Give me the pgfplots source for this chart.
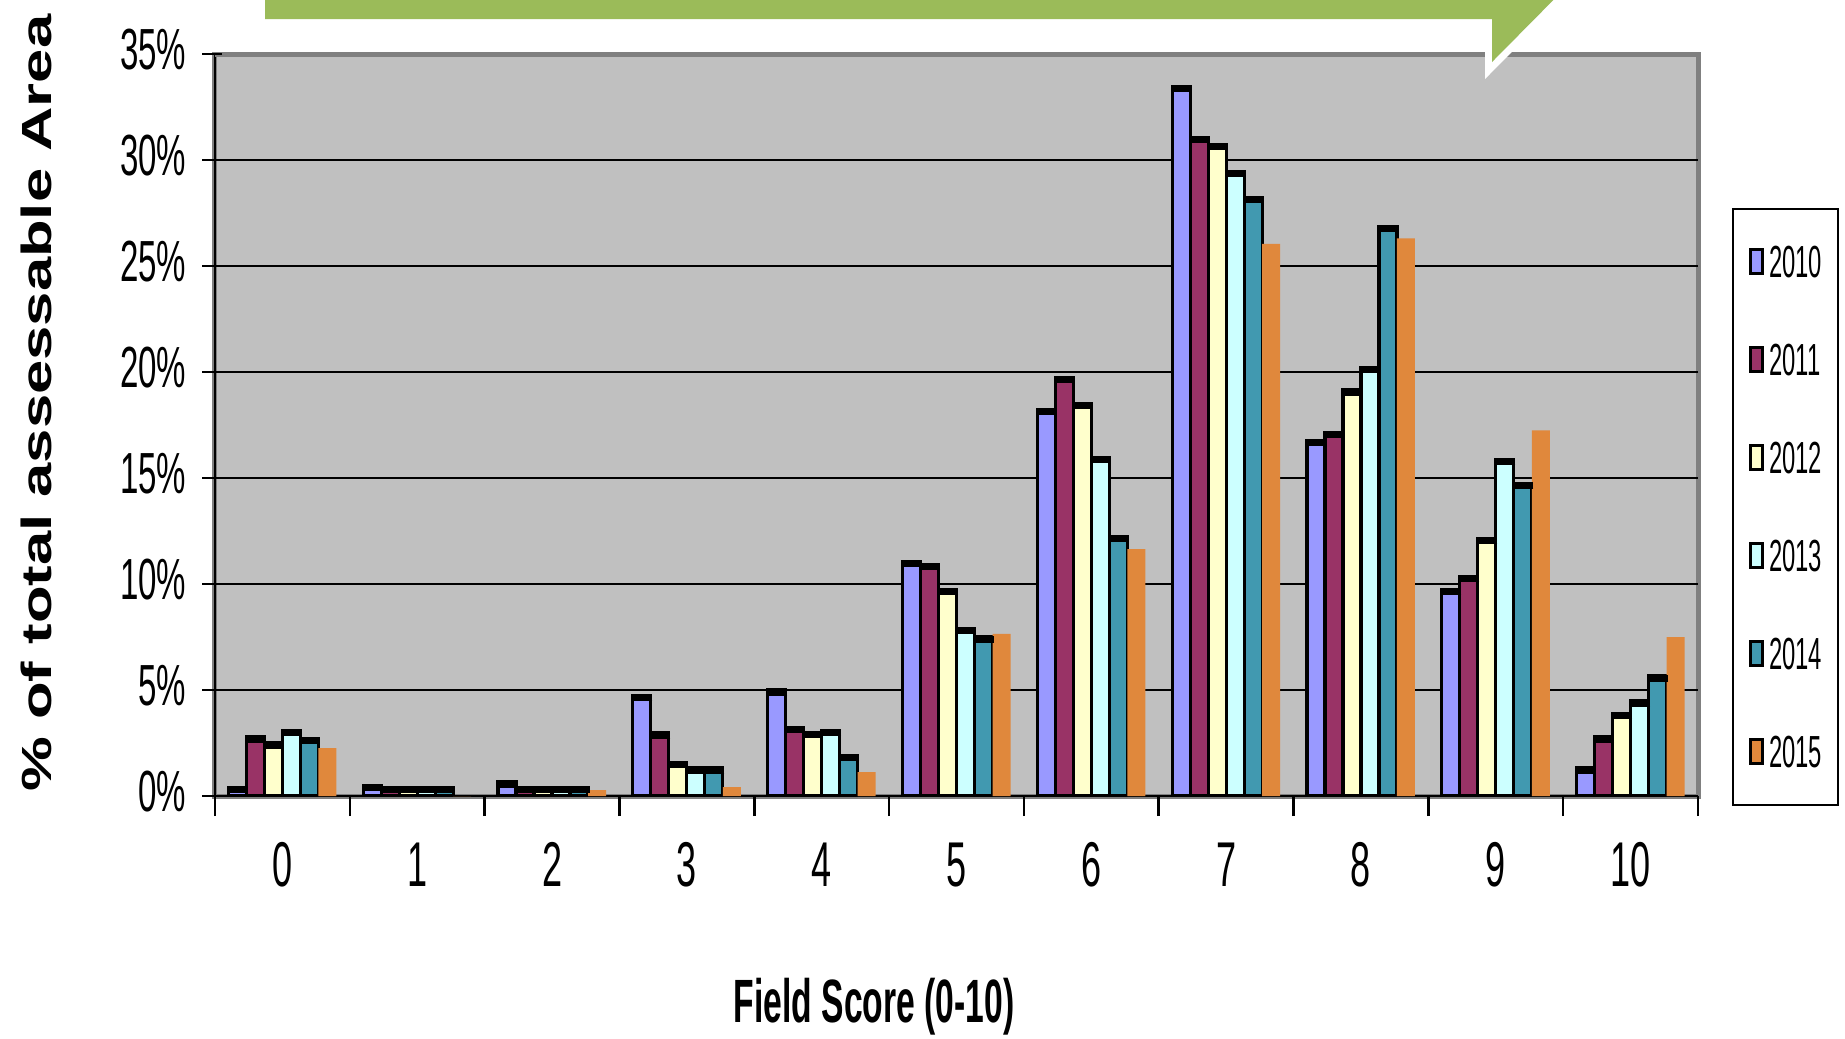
\documentclass[border=0pt]{standalone}
\usepackage{pgfplots}
\pgfplotsset{compat=1.18}
\usepackage{pgfplotstable}
\usepackage{graphicx}
\usepackage{fontspec}
\setmainfont{Liberation Sans}
\definecolor{c2010}{RGB}{153,153,255}
\definecolor{c2011}{RGB}{153,51,102}
\definecolor{c2012}{RGB}{255,255,204}
\definecolor{c2013}{RGB}{204,255,255}
\definecolor{c2014}{RGB}{65,153,176}
\definecolor{c2015}{RGB}{224,136,60}
\definecolor{bggray}{RGB}{192,192,192}
\definecolor{bordergray}{RGB}{128,128,128}
\definecolor{banner}{RGB}{155,187,89}
\newcommand\nar[2][0.57]{\scalebox{#1}[1]{#2}}

\pgfplotstableread{
score y2010 y2011 y2012 y2013 y2014 y2015
0  0.42 2.78 2.5  3.1  2.7  2.26
1  0.5  0.38 0.38 0.38 0.38 0.0
2  0.66 0.38 0.38 0.38 0.38 0.28
3  4.76 2.97 1.6  1.32 1.32 0.42
4  5.0  3.25 3.0  3.1  1.9  1.13
5  11.05 10.9 9.75 7.9 7.5  7.65
6  18.25 19.75 18.5 15.95 12.25 11.65
7  33.45 31.05 30.75 29.45 28.25 26.05
8  16.75 17.15 19.15 20.2 26.85 26.3
9  9.75 10.35 12.15 15.85 14.75 17.25
10 1.32 2.78 3.87 4.48 5.66 7.5
}\data

\pgfplotsset{capbar/.style={draw=black, line width=0.32mm, mark=-, mark size=1.05mm,
  mark options={line width=0.7mm, yshift=-0.2mm, xshift=#1, solid}}}

\begin{document}
\begin{tikzpicture}
\useasboundingbox (-2.15,-2.42) rectangle (16.30,7.96);
\begin{axis}[
  at={(0,0)}, anchor=south west,
  scale only axis, width=14.83cm, height=7.42cm,
  xmin=-0.5, xmax=10.5, ymin=0, ymax=35,
  axis x line*=bottom, axis y line*=left,
  axis line style={black, line width=0.25mm},
  axis background/.style={fill=bggray, draw=bordergray, line width=0.5mm},
  tick align=outside, major tick length=2mm,
  xtick style={black, line width=0.25mm},
  ytick style={black, line width=0.25mm, xshift=0.7mm},
  xtick={-0.5,0.5,...,10.5},
  x tick label as interval,
  xticklabels={\nar{0},\nar{1},\nar{2},\nar{3},\nar{4},\nar{5},\nar{6},\nar{7},\nar{8},\nar{9},\nar{10}},
  xticklabel style={font=\fontsize{18}{18}\selectfont, inner sep=0pt, anchor=base, yshift=-7mm},
  ytick={0,5,...,30},
  yticklabels={\nar{0\%},\nar{5\%},\nar{10\%},\nar{15\%},\nar{20\%},\nar{25\%},\nar{30\%}},
  extra y ticks={35},
  extra y tick labels={\nar{35\%}},
  extra y tick style={grid=major, major grid style={bordergray, line width=0.5mm}},
  yticklabel style={font=\fontsize{16.5}{17}\selectfont, inner sep=0pt, anchor=base east, xshift=-0.8mm, yshift=-1.55mm},
  ymajorgrids, major grid style={black, line width=0.25mm},
  /pgf/number format/assume math mode=true,
  ybar=0pt, bar width=1.8mm,
  xlabel={\fontsize{17.4}{18}\selectfont\bfseries\nar[0.55]{Field Score (0-10)}},
  xlabel style={at={(axis description cs:0.4444,0)}, anchor=base, yshift=-22.6mm, inner sep=0pt},
  ylabel={\fontsize{12}{12}\selectfont\bfseries\scalebox{1.46}[1]{\% of total assessable Area}},
  ylabel style={at={(axis description cs:-0.110,0.5296)}, anchor=base, inner sep=0pt},
  legend image code/.code={\draw[#1, line width=0.3mm] (0cm,-0.12cm) rectangle (0.12cm,0.12cm); \path (0.17cm,0cm);},
  legend cell align=left,
  legend style={at={(axis description cs:1.0229,0.7925)}, anchor=north west, draw=black, line width=0.2mm, fill=white,
    inner xsep=1.6mm, inner ysep=3.7mm, row sep=6.6mm,
    nodes={inner sep=0pt, font=\fontsize{12.8}{13}\selectfont, text height=3.2mm, text depth=0mm}},
]
\addplot[fill=c2010, capbar=-4.5mm] table[x=score,y=y2010]{\data};
\addplot[fill=c2011, capbar=-2.7mm] table[x=score,y=y2011]{\data};
\addplot[fill=c2012, capbar=-0.9mm] table[x=score,y=y2012]{\data};
\addplot[fill=c2013, capbar=0.9mm] table[x=score,y=y2013]{\data};
\addplot[fill=c2014, capbar=2.7mm] table[x=score,y=y2014]{\data};
\addplot[fill=c2015, draw=none] table[x=score,y=y2015]{\data};
\legend{\nar[0.53]{2010},\nar[0.53]{2011},\nar[0.53]{2012},\nar[0.53]{2013},\nar[0.53]{2014},\nar[0.53]{2015}}
\end{axis}
\draw[white, line width=1.4mm, line join=miter] (0.50,8.3) -- (13.72,8.3) -- (12.77,7.34) -- (12.77,7.77) -- (0.50,7.77) -- cycle;
\fill[banner] (0.50,8.3) -- (13.72,8.3) -- (12.77,7.34) -- (12.77,7.77) -- (0.50,7.77) -- cycle;
\end{tikzpicture}
\end{document}
